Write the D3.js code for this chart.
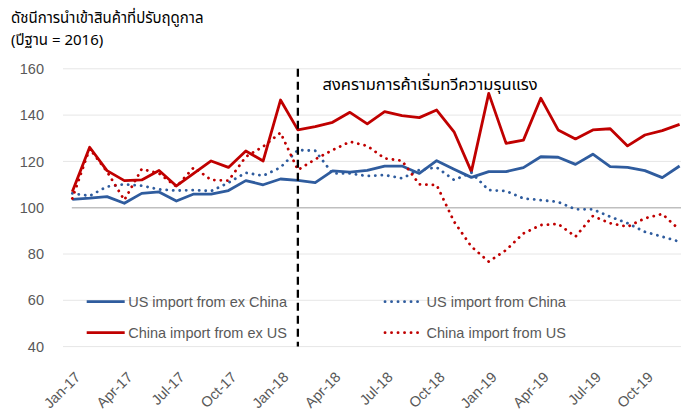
<!DOCTYPE html>
<html>
<head>
<meta charset="utf-8">
<script src="https://cdn.jsdelivr.net/npm/d3@7"></script>
<style>
  html, body { margin: 0; padding: 0; background: #fff; }
  svg { display: block; }
  .lat { font-family: "Liberation Sans", Arial, sans-serif; }
  .th { font-family: Tahoma, "Noto Sans Thai", "Leelawadee UI", "Noto Sans", sans-serif; }
</style>
</head>
<body>
<svg id="chart" width="681" height="414"></svg>
<script>
// ---------- data ----------
const months = [
  "Jan-17","Feb-17","Mar-17","Apr-17","May-17","Jun-17","Jul-17","Aug-17","Sep-17","Oct-17","Nov-17","Dec-17",
  "Jan-18","Feb-18","Mar-18","Apr-18","May-18","Jun-18","Jul-18","Aug-18","Sep-18","Oct-18","Nov-18","Dec-18",
  "Jan-19","Feb-19","Mar-19","Apr-19","May-19","Jun-19","Jul-19","Aug-19","Sep-19","Oct-19","Nov-19","Dec-19"
];
const tickLabels = ["Jan-17","Apr-17","Jul-17","Oct-17","Jan-18","Apr-18","Jul-18","Oct-18","Jan-19","Apr-19","Jul-19","Oct-19"];
const yTicks = [40, 60, 80, 100, 120, 140, 160];

const usFromExChina = [103.6,104.1,104.8,101.9,106.2,106.8,102.9,105.9,105.9,107.4,111.7,109.9,
                       112.4,111.8,110.8,115.9,115.4,116.1,118.0,118.0,114.8,120.3,116.6,113.1,
                       115.6,115.6,117.3,122.0,121.8,118.7,123.1,117.7,117.4,116.0,113.0,118.0];
const usFromChina    = [106.2,105.1,109.1,110.1,109.5,107.9,107.4,107.6,107.2,110.8,115.1,113.8,
                       117.4,124.9,124.6,114.8,114.8,113.7,114.1,112.7,116.3,117.4,112.0,115.1,
                       107.6,107.2,104.0,103.3,102.5,99.3,99.3,96.1,93.3,89.6,87.5,85.3];
const chinaFromExUS  = [106.9,126.1,116.0,111.7,112.0,116.1,109.4,114.8,120.2,117.4,124.5,120.2,
                       146.5,133.6,135.0,136.9,141.2,136.2,141.5,139.8,138.9,142.2,132.8,115.6,
                       149.4,127.8,129.2,147.3,133.6,129.7,133.6,134.1,126.7,131.4,133.3,136.0];
const chinaFromUS    = [104.0,125.5,115.6,103.3,116.7,114.8,109.1,117.4,112.0,111.7,122.0,126.4,
                       132.4,116.3,120.9,124.9,128.5,126.7,121.3,120.3,110.1,109.8,94.0,83.2,
                       76.7,81.7,88.9,92.5,93.0,87.5,96.4,93.3,91.8,95.4,97.3,90.4];

const seriesNames = ["US import from ex China","US import from China","China import from ex US","China import from US"];
const titleLines = ["ดัชนีการนำเข้าสินค้าที่ปรับฤดูกาล", "(ปีฐาน = 2016)"];
const annotation = "สงครามการค้าเริ่มทวีความรุนแรง";
const warStart = "Feb-18";

// ---------- styles ----------
const BLUE = "#2F5C9E", RED = "#C00000";
const series = [
  {name: seriesNames[0], values: usFromExChina, color: BLUE, dotted: false},
  {name: seriesNames[2], values: chinaFromExUS, color: RED,  dotted: false},
  {name: seriesNames[1], values: usFromChina,   color: BLUE, dotted: true},
  {name: seriesNames[3], values: chinaFromUS,   color: RED,  dotted: true}
];

const svg = d3.select("#chart");
const x = d3.scalePoint().domain(months).range([72.3, 679.6]);
const y = d3.scaleLinear().domain([40, 160]).range([346.6, 68.8]);

// gridlines
svg.append("g").selectAll("line").data(yTicks.filter(d => d !== 100)).join("line")
  .attr("x1", 63).attr("x2", 681)
  .attr("y1", d => y(d)).attr("y2", d => y(d))
  .attr("stroke", "#E6E6E6").attr("stroke-width", 1);

// y axis labels
const yAxis = d3.axisLeft(y).tickValues(yTicks).tickSize(0).tickPadding(0);
const gy = svg.append("g").attr("transform", "translate(44,0)").call(yAxis);
gy.select(".domain").remove();
gy.selectAll("text").attr("class", "lat").attr("font-size", 14.5).attr("fill", "#595959");

// x axis (baseline at 100)
const xAxis = d3.axisBottom(x).tickValues(tickLabels).tickSize(0).tickPadding(0);
const gx = svg.append("g").attr("transform", `translate(0,${y(100)})`).call(xAxis);
gx.select(".domain").remove();
gx.selectAll("text").remove();
svg.append("line")
  .attr("x1", x(months[0]) - 0.5).attr("x2", 681)
  .attr("y1", y(100)).attr("y2", y(100))
  .attr("stroke", "#BFBFBF").attr("stroke-width", 1.5);

// x tick labels below plot, rotated
svg.append("g").selectAll("text").data(tickLabels).join("text")
  .attr("class", "lat")
  .attr("font-size", 14.5).attr("fill", "#595959")
  .attr("text-anchor", "end")
  .attr("transform", d => `translate(${x(d) + 9},${378}) rotate(-45)`)
  .text(d => d);

// lines
const line = d3.line().x((d, i) => x(months[i])).y(d => y(d));
svg.append("g").selectAll("path").data(series).join("path")
  .attr("d", d => line(d.values))
  .attr("fill", "none")
  .attr("stroke", d => d.color)
  .attr("stroke-width", d => d.dotted ? 2.8 : 2.8)
  .attr("stroke-linejoin", "round")
  .attr("stroke-linecap", d => d.dotted ? "round" : "butt")
  .attr("stroke-dasharray", d => d.dotted ? "0.1 6.4" : null);

// dashed vertical line
svg.append("line")
  .attr("x1", x(warStart)).attr("x2", x(warStart))
  .attr("y1", y(160)).attr("y2", y(40))
  .attr("stroke", "#000").attr("stroke-width", 2.3)
  .attr("stroke-dasharray", "8 5");

// annotation
svg.append("text").attr("class", "th")
  .attr("x", 322.5).attr("y", 89.5)
  .attr("font-size", 16.5).attr("fill", "#000")
  .text(annotation);

// title
svg.append("g").selectAll("text").data(titleLines).join("text")
  .attr("class", "th")
  .attr("x", 11).attr("y", (d, i) => 23 + i * 22)
  .attr("font-size", 15).attr("fill", "#000")
  .text(d => d);

// legend
const legendItems = [
  {s: series[0], lx: 86.7, ly: 301.7},
  {s: series[2], lx: 385,  ly: 301.7},
  {s: series[1], lx: 86.7, ly: 332.7},
  {s: series[3], lx: 385,  ly: 332.7}
];
const lg = svg.append("g").selectAll("g").data(legendItems).join("g")
  .attr("transform", d => `translate(${d.lx},${d.ly})`);
lg.append("line")
  .attr("x1", 0).attr("x2", 38).attr("y1", 0).attr("y2", 0)
  .attr("stroke", d => d.s.color).attr("stroke-width", 2.8)
  .attr("stroke-linecap", d => d.s.dotted ? "round" : "butt")
  .attr("stroke-dasharray", d => d.s.dotted ? "0.1 6.4" : null);
lg.append("text").attr("class", "lat")
  .attr("x", 41.5).attr("y", 0).attr("dy", "0.35em")
  .attr("font-size", 14.5).attr("fill", "#595959")
  .text(d => d.s.name);
</script>
</body>
</html>
